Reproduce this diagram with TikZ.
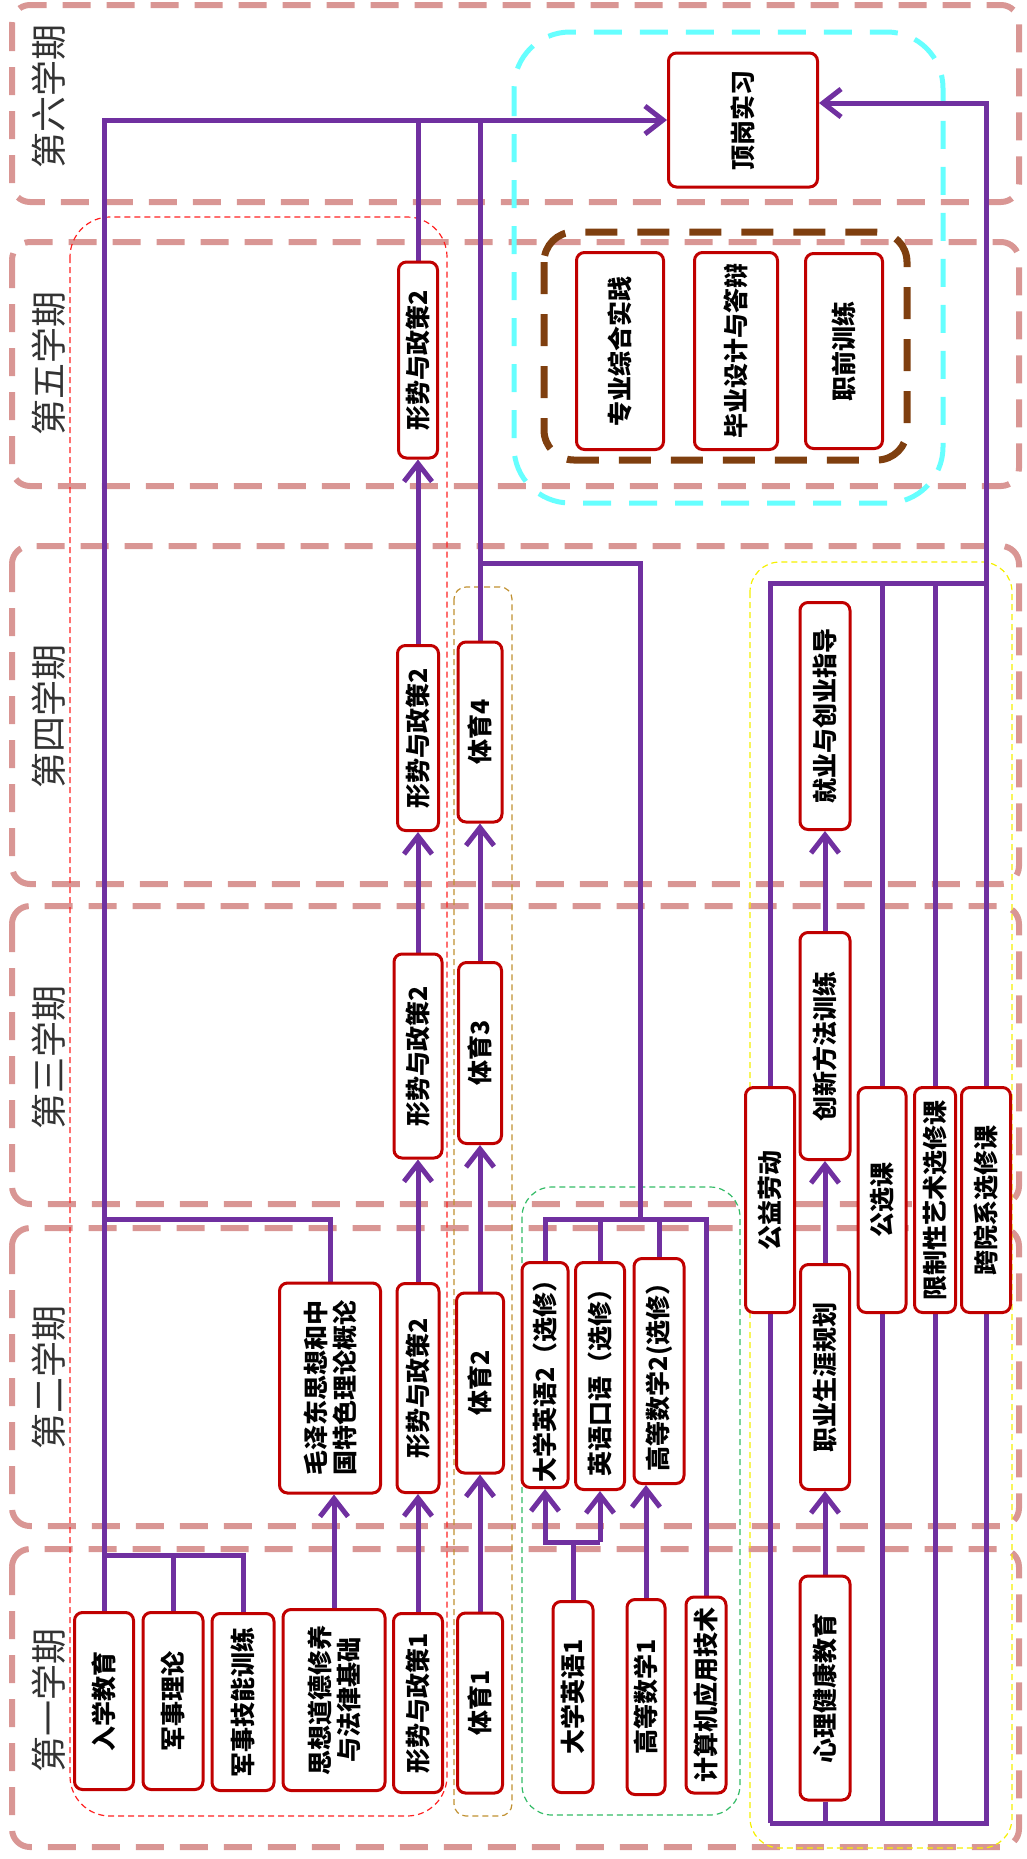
\documentclass[tikz,border=0pt]{standalone}
\usepackage{fontspec}
\newfontfamily\cjk{Noto Sans CJK SC}
\usepackage{xcolor}
\usetikzlibrary{arrows.meta,backgrounds,calc}
\definecolor{cTerm}{HTML}{D99694}
\definecolor{cLink}{HTML}{7030A0}
\definecolor{cBox}{HTML}{C00000}
\definecolor{cRed}{HTML}{FF2020}
\definecolor{cGold}{HTML}{C09030}
\definecolor{cGreen}{HTML}{33BB66}
\definecolor{cYellow}{HTML}{F5F000}
\definecolor{cCyan}{HTML}{66FFFF}
\definecolor{cBrown}{HTML}{7F3F0F}
\tikzset{
  box/.style={draw=cBox, line width=1.5pt, rounded corners=4pt, fill=white,
              rotate=90, inner sep=0pt, align=center,
              font=\cjk\bfseries\fontsize{12.5pt}{14.5pt}\selectfont},
  crs/.style 2 args={box, minimum width=#1*0.5pt, minimum height=#2*0.5pt},
  term/.style={rotate=90, inner sep=0pt, text=black!80,
               font=\cjk\fontsize{18pt}{20pt}\selectfont},
  band/.style={draw=cTerm, line width=3pt, dash pattern=on 14pt off 8pt,
               rounded corners=9pt},
  grp/.style={line width=0.6pt, dash pattern=on 3pt off 2pt},
  link/.style={draw=cLink, line width=2.5pt},
  flow/.style={link, -{Straight Barb[length=9pt,width=14pt]}},
}

\begin{document}
\begin{tikzpicture}[x=0.5pt, y=-0.5pt]
\useasboundingbox (0,0) rectangle (1027,1859);

%% ── terms ─────────────────────────────────────────────────────────────────
\node[term] (t6) at (49,96) {第六学期};
\node[term] (t5) at (49,363) {第五学期};
\node[term] (t4) at (49,716) {第四学期};
\node[term] (t3) at (49,1057) {第三学期};
\node[term] (t2) at (49,1377) {第二学期};
\node[term] (t1) at (49,1700) {第一学期};

%% ── first term ────────────────────────────────────────────────────────────
\node[crs={177}{59}] (rx) at (104,1701) {入学教育};
\node[crs={177}{60}] (js) at (173,1701) {军事理论};
\node[crs={177}{62}] (jn) at (243,1702) {军事技能训练};
\node[crs={181}{102}] (sx) at (334,1700) {思想道德修养\\与法律基础};
\node[crs={179}{49}] (xs1) at (418,1703) {形势与政策1};
\node[crs={180}{45}] (ty1) at (480,1703) {体育1};
\node[crs={191}{40}] (en1) at (573,1697) {大学英语1};
\node[crs={195}{38}] (ma1) at (646,1697) {高等数学1};
\node[crs={196}{40}] (jsj) at (706,1695) {计算机应用技术};
\node[crs={224}{50}] (xl) at (825,1688) {心理健康教育};

%% ── second term ───────────────────────────────────────────────────────────
\node[crs={210}{101}] (mz) at (330,1388) {毛泽东思想和中\\国特色理论概论};
\node[crs={209}{42}] (xs2) at (418,1388) {形势与政策2};
\node[crs={180}{47}] (ty2) at (480,1383) {体育2};
\node[crs={225}{46}] (en2) at (545,1375) {大学英语2（选修）};
\node[crs={227}{49}] (ko) at (600,1376) {英语口语（选修）};
\node[crs={225}{50}] (ma2) at (659,1371) {高等数学2(选修）};
\node[crs={225}{49}] (zy) at (825,1377) {职业生涯规划};

%% ── third term ────────────────────────────────────────────────────────────
\node[crs={204}{48}] (xs3) at (418,1056) {形势与政策2};
\node[crs={181}{43}] (ty3) at (480,1053) {体育3};
\node[crs={227}{50}] (cx) at (825,1046) {创新方法训练};
\node[crs={225}{49}] (gy) at (770,1200) {公益劳动};
\node[crs={225}{48}] (gx) at (882,1200) {公选课};
\node[crs={225}{41}] (xz) at (935,1200) {限制性艺术选修课};
\node[crs={225}{49}] (ky) at (986,1200) {跨院系选修课};

%% ── fourth term ───────────────────────────────────────────────────────────
\node[crs={185}{41}] (xs4) at (418,738) {形势与政策2};
\node[crs={180}{44}] (ty4) at (480,732) {体育4};
\node[crs={227}{50}] (jy) at (825,716) {就业与创业指导};

%% ── fifth and sixth term ──────────────────────────────────────────────────
\node[crs={196}{39}] (xs5) at (418,360) {形势与政策2};
\node[crs={197}{87}] (zh) at (620,351) {专业综合实践};
\node[crs={197}{83}] (by) at (736,351) {毕业设计与答辩};
\node[crs={195}{77}] (zq) at (844,351) {职前训练};
\node[crs={134}{149}] (dg) at (743,120) {顶岗实习};

\coordinate (j6) at (0,103);
\coordinate (j4) at (0,563);
\coordinate (jt) at (0,583);
\coordinate (j2) at (0,1219);
\coordinate (g) at (640,1219);
\coordinate (j1) at (0,1542);
\coordinate (k1) at (0,1555);
\coordinate (jb) at (0,1823);

\begin{scope}[on background layer]
%% ── bands and groups ──────────────────────────────────────────────────────
\foreach \t/\b in {5/202,242/486,546/884,906/1204,1228/1526,1549/1847}
  \draw[band] (12,\t) rectangle (1019,\b);
\draw[grp, draw=cRed, rounded corners=20pt] (70,217) rectangle (447,1816);
\draw[grp, draw=cGold, rounded corners=6pt] (454,587) rectangle (512,1816);
\draw[grp, draw=cGreen, rounded corners=15pt] (522,1187) rectangle (740,1815);
\draw[grp, draw=cYellow, rounded corners=15pt] (750,562) rectangle (1012,1848);
\draw[draw=cCyan, line width=2.5pt, dash pattern=on 14pt off 9pt,
  rounded corners=28pt] (514,32) rectangle (943,503);
\draw[draw=cBrown, line width=3.5pt, dash pattern=on 16pt off 10pt,
  rounded corners=15pt] (544,232) rectangle (907,460);

%% ── connectors ────────────────────────────────────────────────────────────
\draw[flow] (rx.east) |- (dg.north);
\draw[link] (jn.east) |- (rx.east |- k1);
\draw[link] (js.east) -- (js.east |- k1);
\draw[link] (mz.east) |- (rx.east |- j2);
\draw[flow] (sx.east) -- (sx.east |- mz.west);
\foreach \a/\b in {xs1/xs2,xs2/xs3,xs3/xs4,xs4/xs5,ty1/ty2,ty2/ty3,ty3/ty4,
                   xl/zy,zy/cx,cx/jy}
  \draw[flow] (\a.east) -- (\b.west);
\draw[link] (xs5.east) -- (xs5.east |- dg.north);
\draw[link] (ty4.east) -- (ty4.east |- dg.north);
\draw[link] (ty4.east |- j4) -| (g);
\draw[link] (en2.east) |- (jsj.east |- j2) -- (jsj.east);
\draw[link] (ko.east) -- (ko.east |- j2);
\draw[link] (ma2.east) -- (ma2.east |- j2);
\draw[link] (en1.east) -- (en1.east |- j1);
\draw[flow] (ko.west |- j1) -| (en2.west);
\draw[flow] (ko.west |- j1) -- (ko.west);
\draw[flow] (ma1.east) -- (ma1.east |- ma2.west);
\draw[link] (gy.center |- jb) -- (gy.center |- jt) -- (ky.center |- jt);
\draw[flow] (gy.center |- jb) -| (ky.center |- j6) -- (dg.south |- j6);
\draw[link] (gx.center |- jb) -- (gx.center |- jt);
\draw[link] (xz.center |- jb) -- (xz.center |- jt);
\draw[link] (xl.west) -- (xl.west |- jb);
\end{scope}

\end{tikzpicture}
\end{document}
